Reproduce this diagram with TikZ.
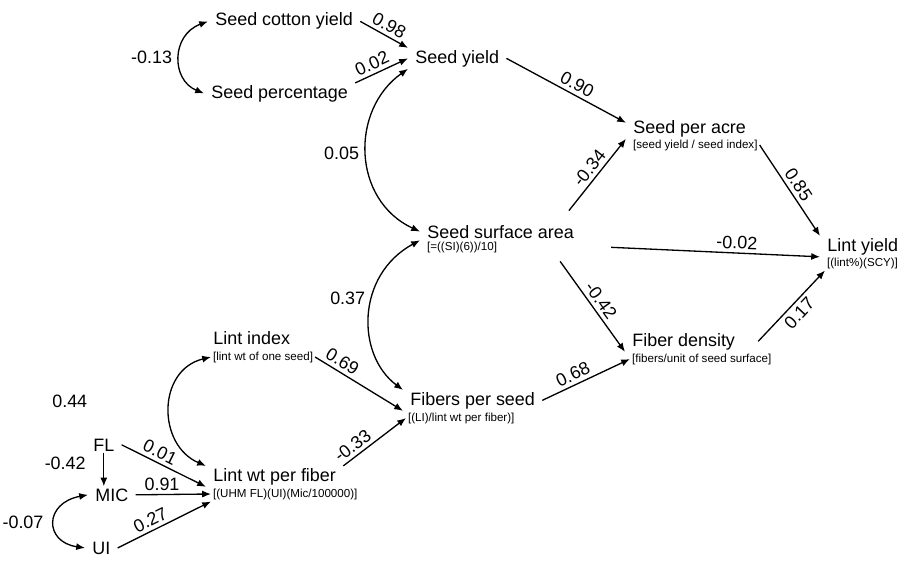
\documentclass[tikz,border=0pt]{standalone}
\usepackage{fontspec}
\setmainfont{Liberation Sans}
\usetikzlibrary{arrows.meta}
\newcommand{\TSz}{\fontsize{10.2}{12}\selectfont}
\newcommand{\SSz}{\fontsize{6.6}{8}\selectfont}

\begin{document}
\begin{tikzpicture}[
    x=0.02cm, y=-0.02cm,
    var/.style={anchor=base west, inner xsep=4pt, inner ysep=1pt, font=\TSz},
    sub/.style={anchor=base west, inner sep=1pt, font=\SSz},
    lbl/.style={font=\TSz, inner sep=2pt},
    pth/.style={draw=black, line width=0.75pt, -{Latex[length=5pt,width=4pt]}},
    cor/.style={draw=black, line width=0.75pt, {Latex[length=5pt,width=4pt]}-{Latex[length=5pt,width=4pt]}},
  ]
  \useasboundingbox (0,0) rectangle (904,561);

  % seed branch
  \node[var] (scy) at (208,26)  {Seed cotton yield};
  \node[var] (sp)  at (204,98)  {Seed percentage};
  \node[var] (sy)  at (408,63)  {Seed yield};
  \node[var] (spa) at (626,133) {Seed per acre};
  \node[sub] (spaS) at (631,148) {[seed yield / seed index]};
  \node[var] (ssa) at (420,238) {Seed surface area};
  \node[sub] (ssaS) at (425,250) {[=((SI)(6))/10]};

  % fibre branch
  \node[var] (ly)  at (820,251) {Lint yield};
  \node[sub] (lyS) at (825,266) {[(lint\%)(SCY)]};
  \node[var] (fd)  at (625,346) {Fiber density};
  \node[sub] (fdS) at (630,362) {[fibers/unit of seed surface]};
  \node[var] (li)  at (206,344) {Lint index};
  \node[sub] (liS) at (211,360) {[lint wt of one seed]};
  \node[var] (fps) at (403,405) {Fibers per seed};
  \node[sub] (fpsS) at (406,421) {[(LI)/lint wt per fiber)]};
  \node[var] (lwf) at (206,481) {Lint wt per fiber};
  \node[sub] (lwfS) at (211,497) {[(UHM FL)(UI)(Mic/100000)]};

  % fibre quality inputs
  \node[var] (FL)  at (86,451)  {FL};
  \node[var] (MIC) at (88,501)  {MIC};
  \node[var] (UI)  at (85,554)  {UI};

  % direct paths
  \draw[pth] (scy.east) -- node[lbl, sloped, above, pos=.5] {0.98} (sy.north west);
  \draw[pth] (sp.north east) -- node[lbl, sloped, above, pos=.4] {0.02} (sy.west);
  \draw[pth] (sy.east) -- node[lbl, sloped, above, pos=.55] {0.90} (spa.175);
  \draw[pth] ([xshift=-7pt,yshift=7pt]ssa.north east) -- node[lbl, sloped, above, pos=.5] {-0.34} (spa.south west);
  \draw[pth] (spaS.east) -- node[lbl, sloped, above] {0.85} (ly.north west);
  \draw[pth] ([xshift=17pt,yshift=-4pt]ssa.south east) -- node[lbl, sloped, above, pos=.6] {-0.02} (ly.south west);
  \draw[pth] ([xshift=-12pt,yshift=-12pt]ssa.south east) -- node[lbl, sloped, above] {-0.42} (fd.south west);
  \draw[pth] ([xshift=9pt]fd.east) -- node[lbl, sloped, below] {0.17} (lyS.south west);
  \draw[pth] (fps.east) -- node[lbl, sloped, above, pos=.4] {0.68} (fdS.west);
  \draw[pth] (liS.east) -- node[lbl, sloped, above, pos=.25] {0.69} (fps.south west);
  \draw[pth] (lwf.north east) -- node[lbl, sloped, above, pos=.25] {-0.33} (fpsS.west);
  \draw[pth] (FL.south) -- node[lbl, left=8pt, pos=.3] {-0.42} (FL.south |- MIC.north);
  \draw[pth] (FL.east) -- node[lbl, sloped, above, pos=.4] {0.01} (lwf.south west);
  \draw[pth] (MIC.east) -- node[lbl, above, pos=.35] {0.91} (lwfS.west);
  \draw[pth] (UI.east) -- node[lbl, sloped, above, pos=.4] {0.27} (lwfS.south west);

  % correlations
  \draw[cor] (scy.west) .. controls (171,35) and (171,80) .. node[lbl, left=2pt] {-0.13} (sp.west);
  \draw[cor] (sy.south west) .. controls (350,110) and (352,200) .. node[lbl, left=2pt] {0.05} (ssa.west);
  \draw[cor] (ssa.south west) .. controls (356,275) and (356,355) .. node[lbl, left=2pt, pos=.4] {0.37} (fps.north west);
  \draw[cor] (liS.west) .. controls (157,370) and (157,445) .. node[lbl, left=45pt, pos=.45] {0.44} (lwf.north west);
  \draw[cor] (MIC.west) .. controls (44,503) and (44,542) .. node[lbl, left=4pt] {-0.07} (UI.west);

\end{tikzpicture}
\end{document}
